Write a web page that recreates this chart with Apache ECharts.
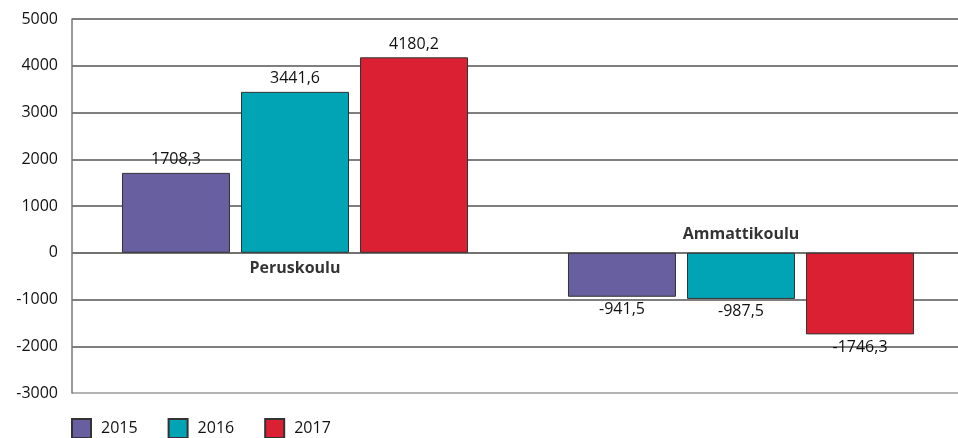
<!DOCTYPE html>
<html>
<head>
<meta charset="utf-8">
<script src="https://cdn.jsdelivr.net/npm/echarts@6/dist/echarts.min.js"></script>
<style>
    html, body { margin: 0; padding: 0; background: #fff; }
    #chart { width: 958px; height: 438px; }
</style>
</head>
<body>
<div id="chart"></div>
<script>
'use strict';

// 数据
const categories = ['Peruskoulu', 'Ammattikoulu'];
const years = ['2015', '2016', '2017'];
const values2015 = [1708.3, -941.5];
const values2016 = [3441.6, -987.5];
const values2017 = [4180.2, -1746.3];
const yTicks = { min: -3000, max: 5000, step: 1000 };

const colors = ['#675f9f', '#00a4b4', '#db2033'];
const font = 'Open Sans';

function fmt(v) {
    return String(v.toFixed(1)).replace('.', ',');
}

function barSeries(name, values, color) {
    return {
        name: name,
        type: 'bar',
        data: values.map(v => ({
            value: v,
            label: { position: v >= 0 ? 'top' : 'bottom' }
        })),
        barWidth: 108,
        barGap: '10.2%',
        itemStyle: { color: color, borderColor: '#333', borderWidth: 1 },
        label: {
            show: true,
            distance: 5,
            color: '#111',
            fontFamily: font,
            fontSize: 16,
            formatter: p => fmt(p.value)
        }
    };
}

const myChart = echarts.init(document.getElementById('chart'));

const option = {
    animation: false,
    grid: {
        left: 72, width: 892, top: 19, height: 374,
        containLabel: false,
        outerBoundsMode: 'none'
    },
    legend: {
        data: years,
        left: 71,
        top: 418,
        padding: 0,
        itemWidth: 19,
        itemHeight: 19,
        itemGap: 30,
        icon: 'rect',
        textStyle: { fontFamily: font, fontSize: 16, color: '#111', padding: [0, 0, 0, 5] }
    },
    xAxis: {
        type: 'category',
        data: categories,
        axisLine: { show: false },
        axisTick: { show: false },
        axisLabel: { show: false },
        splitLine: { show: false }
    },
    yAxis: {
        type: 'value',
        min: yTicks.min,
        max: yTicks.max,
        interval: yTicks.step,
        axisLine: { show: true, lineStyle: { color: '#777', width: 1.5 } },
        axisTick: { show: false },
        axisLabel: { fontFamily: font, fontSize: 16, color: '#111', margin: 14, formatter: v => String(v) },
        splitLine: {
            show: true,
            lineStyle: {
                color: ['#9a9a9a', '#555', '#555', '#444', '#555', '#555', '#555', '#555', '#555'],
                width: 1.5
            }
        }
    },
    series: [
        barSeries(years[0], values2015, colors[0]),
        barSeries(years[1], values2016, colors[1]),
        barSeries(years[2], values2017, colors[2]),
        {
            name: 'labels',
            type: 'scatter',
            symbolSize: 0,
            silent: true,
            z: 5,
            data: categories.map((c, i) => ({
                value: [c, 0],
                label: {
                    position: i === 0 ? 'bottom' : 'top',
                    distance: i === 0 ? 8 : 10
                }
            })),
            label: {
                show: true,
                fontFamily: font,
                fontSize: 16,
                fontWeight: 'bold',
                color: '#000',
                formatter: p => categories[p.dataIndex]
            }
        }
    ]
};

myChart.setOption(option);
</script>
</body>
</html>
